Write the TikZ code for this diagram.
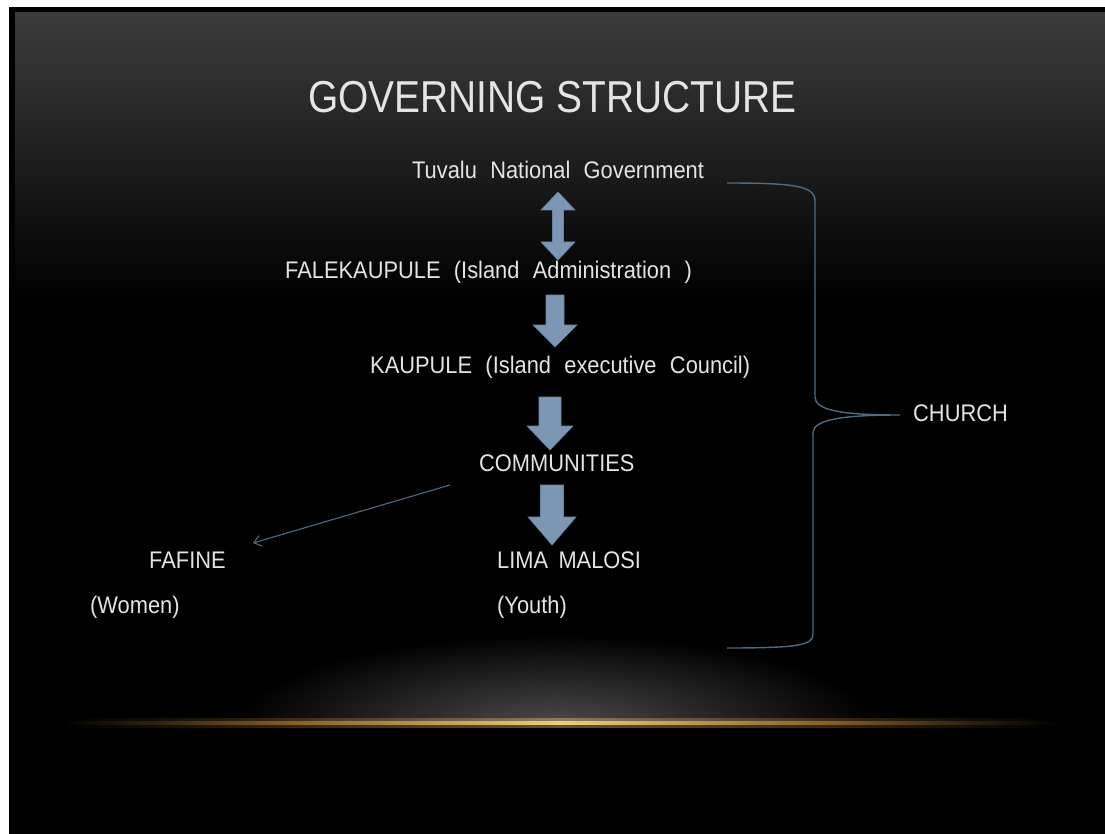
\documentclass[tikz,border=0pt]{standalone}
\usepackage{fontspec}
\setmainfont{Liberation Sans}
\newfontfamily\bodyfont{Liberation Sans}[FakeStretch=0.91,WordSpace=2.2]
\newfontfamily\headfont{Liberation Sans}[FakeStretch=0.87]
\usetikzlibrary{arrows.meta}

\definecolor{slidetop}{HTML}{3C3C3C}
\definecolor{slidemid}{HTML}{141414}
\definecolor{txt}{HTML}{E4E4E4}
\definecolor{steel}{HTML}{7C97B4}
\definecolor{steeledge}{HTML}{6A849F}
\definecolor{steeldark}{HTML}{4E6B84}
\definecolor{gold}{HTML}{F2CC80}
\definecolor{golddim}{HTML}{8A6226}
\definecolor{goldfaint}{HTML}{2E2010}
\definecolor{glow}{HTML}{4A4A4A}

% the shaded path spans 25bp..75bp of the shading
\pgfdeclarehorizontalshading{goldline}{100bp}{color(0bp)=(black); color(25bp)=(black); color(29.5bp)=(goldfaint); color(37bp)=(golddim); color(50bp)=(gold); color(63bp)=(golddim); color(70.5bp)=(goldfaint); color(75bp)=(black); color(100bp)=(black)}

% downward block arrow: centre x, top y, tip y, shaft half width, head half width, head length
\newcommand\blockdown[6]{%
  \filldraw[blockarrow] (#1-#4,#2) -- (#1+#4,#2) -- (#1+#4,#3-#6) -- (#1+#5,#3-#6)
    -- (#1,#3) -- (#1-#5,#3-#6) -- (#1-#4,#3-#6) -- cycle;}

\begin{document}
\begin{tikzpicture}[x=1pt,y=-1pt,
  label/.style={text=txt,inner sep=0pt,anchor=base west,font=\bodyfont\fontsize{24}{28}\selectfont},
  heading/.style={text=txt,inner sep=0pt,anchor=base west,font=\headfont\fontsize{44.7}{50}\selectfont},
  blockarrow/.style={fill=steel,draw=steeledge,line width=0.6pt,line join=miter},
  brace/.style={draw=steeldark,line width=1.4pt},
  thinarrow/.style={draw=steeldark,line width=1.1pt,-{Straight Barb[length=7pt,width=11pt]}}]
\useasboundingbox (0,0) rectangle (1105,834);

% page and slide background
\fill[white] (0,0) rectangle (1105,834);
\fill[black] (9,7) rectangle (1105,834);
\shade[top color=slidetop, middle color=slidemid, bottom color=black] (15,13) rectangle (1105,300);

% floor glow and golden horizon line
\begin{scope}
  \clip (180,600) rectangle (930,722);
  \shade[inner color=glow, outer color=black] (555,724) ellipse [x radius=320, y radius=90];
\end{scope}
\shade[shading=goldline, opacity=0.4] (60,718.5) rectangle (1060,727.5);
\shade[shading=goldline] (60,721.8) rectangle (1060,724.4);

% texts
\node[heading] (title)  at (308,113) {GOVERNING STRUCTURE};
\node[label]   (tnG)    at (412,179) {Tuvalu National Government};
\node[label]   (fale)   at (285,278) {FALEKAUPULE (Island Administration )};
\node[label]   (kaup)   at (370,373) {KAUPULE (Island executive Council)};
\node[label]   (comm)   at (479,471) {COMMUNITIES};
\node[label]   (lima)   at (497,568) {LIMA\hspace{-3pt} MALOSI};
\node[label]   (youth)  at (497,613.5) {(Youth)};
\node[label]   (fafine) at (149,568) {FAFINE};
\node[label]   (women)  at (90,613.5) {(Women)};
\node[label]   (church) at (913,421.5) {CHURCH};

% block arrows between the levels
\filldraw[blockarrow] (558,192) -- (575,210) -- (563.5,210) -- (563.5,242) -- (575,242)
  -- (558,260) -- (541,242) -- (552.5,242) -- (552.5,210) -- (541,210) -- cycle;
\blockdown{555}{295}{347}{9}{22}{22}
\blockdown{550}{397}{450}{11}{23}{24}
\blockdown{552}{485}{545}{11.5}{24}{28}

% communities to women
\coordinate (commtail) at (450,485);
\coordinate (fafinehead) at (253,543);
\draw[thinarrow] (commtail) -- (fafinehead);

% brace grouping the structure under the church
\coordinate (bracetop) at (727,183);
\coordinate (bracebot) at (727,648);
\coordinate (bracetip) at (900,415);
\draw[brace] (bracetop) .. controls (795,183) and (815,186) .. (815,201) -- (815,397)
  .. controls (815,410) and (840,415) .. (bracetip)
  .. controls (840,415) and (813,420) .. (813,433) -- (813,634)
  .. controls (813,645) and (800,648) .. (bracebot);
\end{tikzpicture}
\end{document}
